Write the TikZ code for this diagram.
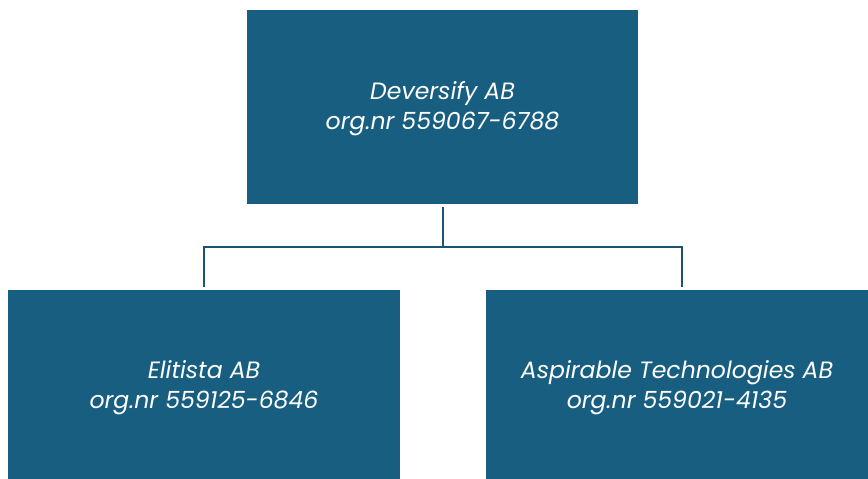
\documentclass[tikz,border=0pt]{standalone}
\usepackage{fontspec}
\setmainfont{Poppins}
\definecolor{boxblue}{HTML}{175E80}
\definecolor{linecol}{HTML}{1B5470}
\begin{document}
\begin{tikzpicture}[x=1pt,y=-1pt,
  orgbox/.style={fill=boxblue,draw=none,text=white,align=center,font=\fontsize{23.6}{30}\selectfont\itshape,inner sep=0pt},
  lbl/.style={text=white,align=center,font=\fontsize{23.6}{30}\selectfont\itshape,inner sep=0pt},
  conn/.style={draw=linecol,line width=2.4pt}]
\useasboundingbox (0,0) rectangle (868,479);
\node[orgbox,minimum width=391pt,minimum height=194pt] (top) at (442.5,107) {};
\node[lbl] (toplbl) at (442.5,109) {Deversify AB\\org.nr 559067-6788};
\node[orgbox,minimum width=392pt,minimum height=189pt] (left) at (204,384.5) {};
\node[lbl] (leftlbl) at (204,387.5) {Elitista AB\\org.nr 559125-6846};
\node[orgbox,minimum width=382pt,minimum height=189pt] (right) at (677,384.5) {};
\node[lbl] (rightlbl) at (677,387.5) {Aspirable Technologies AB\\org.nr 559021-4135};
\coordinate (j) at (443,247);
\draw[conn] (443,207) -- (j);
\draw[conn] (204,287) |- (j) -| (682,287);
\end{tikzpicture}
\end{document}
